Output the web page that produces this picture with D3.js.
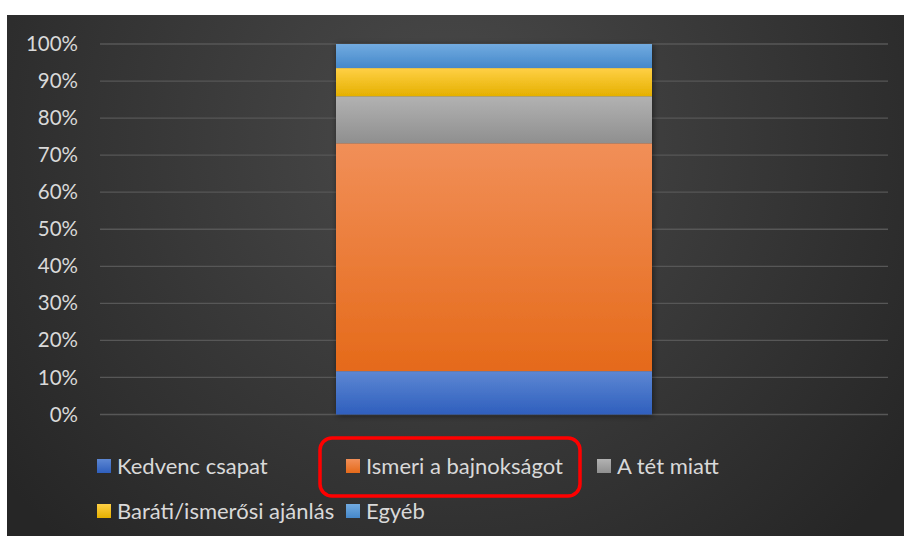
<!DOCTYPE html>
<html><head><meta charset="utf-8">
<script src="https://cdn.jsdelivr.net/npm/d3@7"></script>
<style>html,body{margin:0;padding:0;background:#fff;}svg{display:block;}</style>
</head><body>
<svg id="c" width="904" height="536"></svg>
<script>
const categories = ["Kategória"];
const seriesNames = ["Kedvenc csapat","Ismeri a bajnokságot","A tét miatt","Baráti/ismerősi ajánlás","Egyéb"];
const seriesValues = [11.7, 61.5, 12.7, 7.6, 6.5];
const tickValues = [0,10,20,30,40,50,60,70,80,90,100];
const seriesColors = [
  ["#5d87d3","#2f5fbd"],
  ["#f18f58","#e56a1a"],
  ["#b2b2b2","#8f8f8f"],
  ["#ffd045","#e5b000"],
  ["#72abe0","#4588ca"]
];

const svg = d3.select("#c");
const defs = svg.append("defs");
const bg = defs.append("radialGradient").attr("id","bg").attr("gradientUnits","userSpaceOnUse")
  .attr("cx",450).attr("cy",140).attr("r",560);
bg.append("stop").attr("offset","0").attr("stop-color","#4b4b4b");
bg.append("stop").attr("offset","1").attr("stop-color","#262626");
seriesColors.forEach((c,i)=>{
  const g = defs.append("linearGradient").attr("id","g"+i).attr("x1",0).attr("y1",0).attr("x2",0).attr("y2",1);
  g.append("stop").attr("offset","0").attr("stop-color",c[0]);
  g.append("stop").attr("offset","1").attr("stop-color",c[1]);
});
const f = defs.append("filter").attr("id","sh").attr("x","-10%").attr("y","-10%").attr("width","120%").attr("height","120%");
f.append("feDropShadow").attr("dx",1).attr("dy",1).attr("stdDeviation",3).attr("flood-color","#000").attr("flood-opacity",0.5);

svg.append("rect").attr("x",7).attr("y",15).attr("width",897).attr("height",521).attr("fill","url(#bg)");

const y = d3.scaleLinear().domain([0,100]).range([414.5,44]);
const x = d3.scaleBand().domain(categories).range([100,888]).paddingInner(0.6).paddingOuter(0.3);

// gridlines
svg.append("g").selectAll("line").data(tickValues).join("line")
  .attr("x1",100).attr("x2",888).attr("y1",d=>y(d)).attr("y2",d=>y(d))
  .attr("stroke","#575757").attr("stroke-width",1.3);

// y axis
const yAxis = d3.axisLeft(y).tickValues(tickValues).tickFormat(d=>d+"%").tickSize(0).tickPadding(0);
const ya = svg.append("g").attr("transform","translate(78,0)").call(yAxis);
ya.select(".domain").remove();
ya.selectAll("text").attr("fill","#d9d9d9").attr("font-family","Lato, 'Open Sans', sans-serif").attr("font-size",20.5);

// stacked bars
let cum = 0;
const stacks = seriesValues.map((v,i)=>{const s={i,y0:cum,y1:cum+v}; cum+=v; return s;});
const bx = 336, bw = 316;
const barG = svg.append("g").attr("filter","url(#sh)");
barG.selectAll("rect").data(stacks).join("rect")
  .attr("x",bx).attr("width",bw)
  .attr("y",d=>y(d.y1)).attr("height",d=>y(d.y0)-y(d.y1))
  .attr("fill",d=>"url(#g"+d.i+")");

// legend
const legendPos = [[97,466],[346,466],[597,466],[97,511],[346,511]];
const lg = svg.append("g");
seriesNames.forEach((n,i)=>{
  const [lx,ly] = legendPos[i];
  lg.append("rect").attr("x",lx).attr("y",ly-7).attr("width",14).attr("height",14).attr("fill","url(#g"+i+")");
  lg.append("text").attr("x",lx+20).attr("y",ly).attr("dy","0.35em")
    .attr("fill","#d9d9d9").attr("font-family","Lato, 'Open Sans', sans-serif").attr("font-size",22).text(n);
});

// red highlight box
svg.append("rect").attr("x",320).attr("y",438).attr("width",260).attr("height",58).attr("rx",12).attr("ry",12)
  .attr("fill","none").attr("stroke","#ff0000").attr("stroke-width",3.5);
</script>
</body></html>
